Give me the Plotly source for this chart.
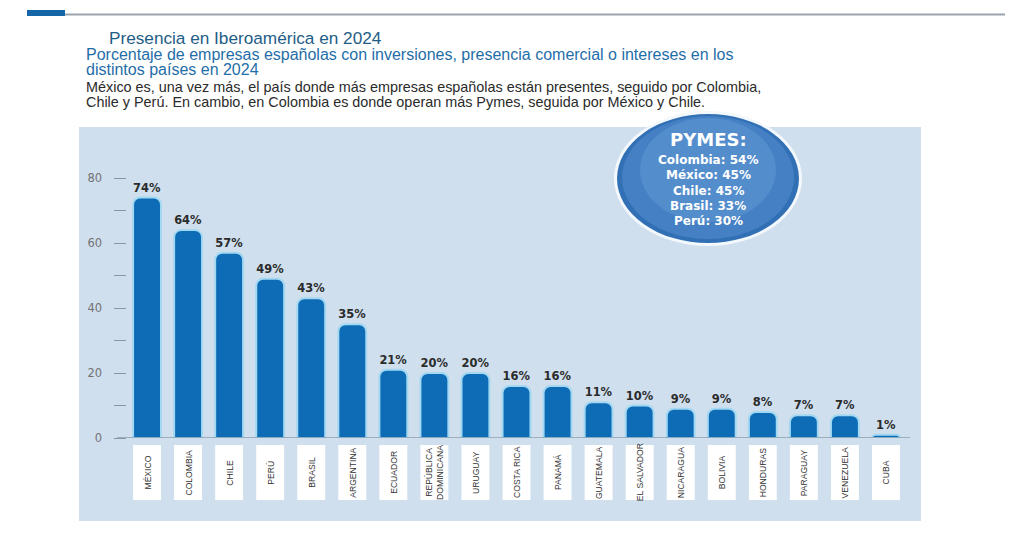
import plotly.graph_objects as go

# el navegador reduce la página en vertical (~544 -> 537), por eso el alto es 544
W, H_REF, H = 1024, 537, 544

paises = ["MÉXICO", "COLOMBIA", "CHILE", "PERÚ", "BRASIL", "ARGENTINA", "ECUADOR",
          "REPÚBLICA<br>DOMINICANA", "URUGUAY", "COSTA RICA", "PANAMÁ", "GUATEMALA",
          "EL SALVADOR", "NICARAGUA", "BOLIVIA", "HONDURAS", "PARAGUAY", "VENEZUELA", "CUBA"]
porcentaje = [74, 64, 57, 49, 43, 35, 21, 20, 20, 16, 16, 11, 10, 9, 9, 8, 7, 7, 1]

pymes_titulo = "PYMES:"
pymes = ["Colombia: 54%", "México: 45%", "Chile: 45%", "Brasil: 33%", "Perú: 30%"]

titulo = "Presencia en Iberoamérica en 2024"
subtitulo = ["Porcentaje de empresas españolas con inversiones, presencia comercial o intereses en los",
             "distintos países en 2024"]
texto = ["México es, una vez más, el país donde más empresas españolas están presentes, seguido por Colombia,",
         "Chile y Perú. En cambio, en Colombia es donde operan más Pymes, seguida por México y Chile."]

FONT = "Liberation Sans, Arial, sans-serif"
BOLD = "DejaVu Sans, sans-serif"


def px(x):
    return x / W


def py(y):
    return 1 - y / H_REF


def nota(texto, x, y, size, color, family=FONT, xanchor="left", **kw):
    return dict(text=texto, x=px(x), y=py(y), xref="paper", yref="paper", xanchor=xanchor,
                yanchor="middle", showarrow=False, font=dict(family=family, size=size, color=color), **kw)


n = len(paises)
x = list(range(n))

fig = go.Figure()
fig.add_trace(go.Bar(
    x=x, y=porcentaje, width=0.68,
    marker=dict(color="#0e6cb6", line=dict(color="#a3d8f2", width=2)),
    text=[f"<b>{v}%</b>" for v in porcentaje], textposition="outside",
    textfont=dict(family=BOLD, size=11.5, color="#2b2b2b"),
    cliponaxis=False, hoverinfo="skip",
))

shapes = [
    # franja superior
    dict(type="rect", xref="paper", yref="paper", x0=px(27), x1=px(65), y0=py(16), y1=py(10),
         fillcolor="#1566a8", line_width=0, layer="below"),
    dict(type="line", xref="paper", yref="paper", x0=px(65), x1=px(1005), y0=py(14.5), y1=py(14.5),
         line=dict(color="#9aa3ab", width=2)),
    # panel
    dict(type="rect", xref="paper", yref="paper", x0=px(79), x1=px(921), y0=py(521), y1=py(127),
         fillcolor="#cfdfee", line_width=0, layer="below"),
    # eje x
    dict(type="line", xref="paper", yref="y", x0=px(117), x1=px(910), y0=0, y1=0,
         line=dict(color="#6f7f8c", width=1.2)),
    # burbuja pymes
    dict(type="circle", xref="paper", yref="paper", x0=px(614), x1=px(802), y0=py(246), y1=py(111),
         fillcolor="#f3f8fc", line_width=0),
    dict(type="circle", xref="paper", yref="paper", x0=px(617), x1=px(799), y0=py(243), y1=py(114),
         fillcolor="#3270b6", line_width=0),
    dict(type="circle", xref="paper", yref="paper", x0=px(622), x1=px(794), y0=py(239), y1=py(116),
         fillcolor="rgba(80,138,204,0.6)", line_width=0),
    dict(type="circle", xref="paper", yref="paper", x0=px(640), x1=px(776), y0=py(222), y1=py(118),
         fillcolor="rgba(125,175,230,0.28)", line_width=0),
]

annotations = [
    nota(titulo, 107, 38, 17.2, "#1e5d86"),
    nota(subtitulo[0], 84, 55, 16, "#1f6ea8"),
    nota(subtitulo[1], 84, 69, 16, "#1f6ea8"),
    nota(texto[0], 84, 87.5, 14.4, "#2a2a2a"),
    nota(texto[1], 84, 101.5, 14.4, "#2a2a2a"),
    nota(f"<b>{pymes_titulo}</b>", 708, 139, 18, "white", family=BOLD, xanchor="center"),
]
for i, linea in enumerate(pymes):
    annotations.append(nota(f"<b>{linea}</b>", 708, 160 + 15.3 * i, 12, "white",
                            family=BOLD, xanchor="center"))

# cajas blancas con el nombre del país
for i, p in enumerate(paises):
    shapes.append(dict(type="rect", xref="x", yref="paper", x0=i - 0.34, x1=i + 0.34,
                       y0=py(500), y1=py(445), fillcolor="white", line_width=0))
    annotations.append(dict(text=p, x=i, y=py(472.5), xref="x", yref="paper", textangle=-90,
                            xanchor="center", yanchor="middle", showarrow=False,
                            font=dict(family=FONT, size=8.6, color="#333333")))

fig.update_layout(
    width=W, height=H, margin=dict(l=0, r=0, t=0, b=0),
    paper_bgcolor="white", plot_bgcolor="rgba(0,0,0,0)",
    barcornerradius=7, showlegend=False,
    shapes=shapes, annotations=annotations,
    xaxis=dict(domain=[px(126.5), px(906.5)], range=[-0.5, n - 0.5], showticklabels=False,
               showgrid=False, zeroline=False, showline=False, ticks=""),
    yaxis=dict(domain=[py(438), py(161.75)], range=[0, 85], tickvals=[0, 20, 40, 60, 80],
               showgrid=False, zeroline=False, showline=False,
               ticks="outside", ticklen=12, tickcolor="#8a96a0", tickwidth=1, ticklabelstandoff=9,
               tickfont=dict(family=BOLD, size=11.5, color="#737373"),
               minor=dict(tickvals=[10, 30, 50, 70], ticks="outside", ticklen=12,
                          tickcolor="#8a96a0", tickwidth=1)),
)

js = ("document.documentElement.style.overflow='hidden';"
      "document.body.style.margin='0';document.body.style.overflow='hidden';")
fig.write_html("out.html", config={"displayModeBar": False}, post_script=js)
